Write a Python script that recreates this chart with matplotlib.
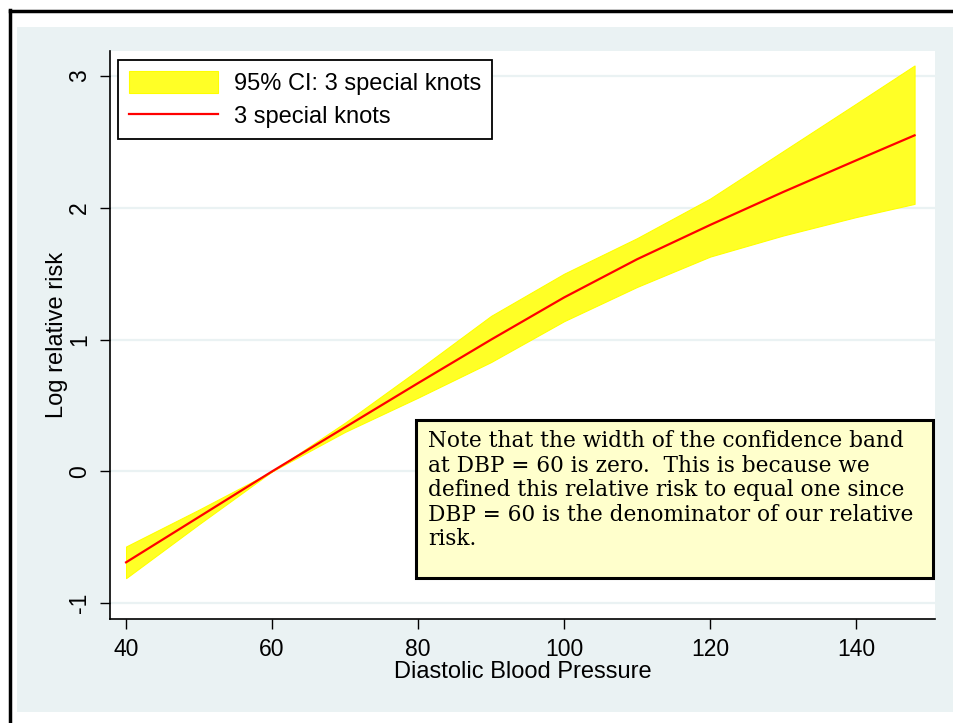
#Log relative risk vs diastolic blood pressure (restricted cubic spline, 3 knots)

#Imports
import matplotlib
matplotlib.use("Agg")
import matplotlib.pyplot as plt
from matplotlib.patches import Rectangle
from matplotlib.lines import Line2D

#Data
dbp = [40, 50, 60, 70, 80, 90, 100, 110, 120, 130, 140, 148]
log_rr = [-0.69, -0.345, 0.0, 0.335, 0.67, 1.00, 1.32, 1.61, 1.87, 2.12, 2.36, 2.55]
ci_upper = [-0.57, -0.29, 0.0, 0.37, 0.77, 1.18, 1.50, 1.77, 2.07, 2.43, 2.79, 3.08]
ci_lower = [-0.81, -0.40, 0.0, 0.30, 0.56, 0.83, 1.14, 1.40, 1.63, 1.79, 1.93, 2.03]

x_ticks = [40, 60, 80, 100, 120, 140]
y_ticks = [-1, 0, 1, 2, 3]

note = ("Note that the width of the confidence band\n"
        "at DBP = 60 is zero.  This is because we\n"
        "defined this relative risk to equal one since\n"
        "DBP = 60 is the denominator of our relative\n"
        "risk.")

bg = "#eaf2f3"
W, H = 954, 723

plt.rcParams['font.family'] = ['Liberation Sans', 'DejaVu Sans']

fig = plt.figure(figsize=(W / 100, H / 100), dpi=100, facecolor="white")

# stata-like graph region and outer frame
fig.add_artist(Rectangle((17 / W, 1 - 712 / H), (W - 17) / W, (712 - 27) / H,
                         transform=fig.transFigure, facecolor=bg, edgecolor="none", zorder=0))
fig.add_artist(Line2D([10 / W, 10 / W], [0, 1 - 10 / H], transform=fig.transFigure,
                      color="black", lw=2.5))
fig.add_artist(Line2D([10 / W, 1], [1 - 10.5 / H, 1 - 10.5 / H], transform=fig.transFigure,
                      color="black", lw=2.5))

ax = fig.add_axes([110 / W, 1 - 619 / H, 825 / W, 568 / H])
ax.set_facecolor("white")

ax.fill_between(dbp, ci_lower, ci_upper, color="#ffff26", lw=0.8, edgecolor="#ffff00",
                label="95% CI: 3 special knots", zorder=2)
ax.plot(dbp, log_rr, color="#ff0000", lw=1.6, label="3 special knots", zorder=3)

ax.set_xlim(37.8, 150.8)
ax.set_ylim(-1.12, 3.19)
ax.set_xticks(x_ticks)
ax.set_yticks(y_ticks)
ax.set_yticklabels([str(v) for v in y_ticks], rotation=90, va="center")
ax.tick_params(axis="both", direction="out", length=7, width=1, labelsize=16.5, pad=6.5)
ax.grid(axis="y", color=bg, lw=1.6, zorder=1)
ax.set_axisbelow(True)
for s in ["top", "right"]:
    ax.spines[s].set_visible(False)
for s in ["left", "bottom"]:
    ax.spines[s].set_linewidth(1.2)

ax.set_xlabel("Diastolic Blood Pressure", fontsize=17)
ax.xaxis.set_label_coords(0.5, -0.074)
ax.set_ylabel("Log relative risk", fontsize=17)
ax.yaxis.set_label_coords(-0.051, 0.5)

leg = ax.legend(loc="upper left", bbox_to_anchor=(0.0097, 0.984), fontsize=17,
                fancybox=False, framealpha=1, edgecolor="black", handlelength=3.8,
                handleheight=1.1, handletextpad=0.65, labelspacing=0.38,
                borderpad=0.45, borderaxespad=0)
leg.get_frame().set_linewidth(1.3)

# note box
fig.add_artist(Rectangle((416 / W, 1 - 578 / H), (933 - 416) / W, (578 - 420) / H,
                         transform=fig.transFigure, facecolor="#ffffcc", edgecolor="black",
                         lw=2.2, zorder=5))
fig.text(428 / W, 1 - 430 / H, note, family="DejaVu Serif", fontsize=15.6,
         va="top", ha="left", linespacing=1.15, zorder=6)

fig.savefig("out.png", dpi=100)
